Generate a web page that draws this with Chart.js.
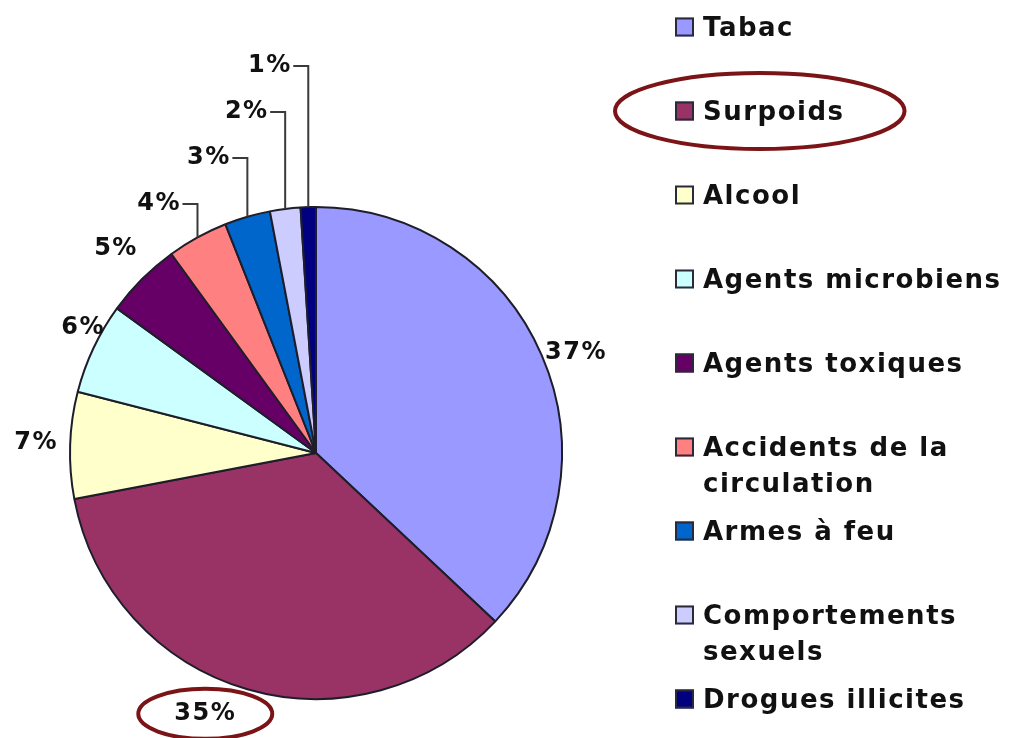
<!DOCTYPE html>
<html lang="fr">
<head>
<meta charset="utf-8">
<title>Causes de décès évitables</title>
<script src="https://cdn.jsdelivr.net/npm/chart.js@4/dist/chart.umd.min.js"></script>
<style>
  html, body { margin: 0; padding: 0; background: #ffffff; }
  #wrap { width: 1014px; height: 738px; position: relative; }
</style>
</head>
<body>
<div id="wrap"><canvas id="pie"></canvas></div>
<script>
// Categories (multi-line legend entries are given as arrays of lines)
const categories = [
  'Tabac',
  'Surpoids',
  'Alcool',
  'Agents microbiens',
  'Agents toxiques',
  ['Accidents de la', 'circulation'],
  'Armes à feu',
  ['Comportements', 'sexuels'],
  'Drogues illicites'
];
// Share of each cause, in percent
const shares = [37, 35, 7, 6, 5, 4, 3, 2, 1];
// Slice colours
const sliceColors = ['#9999FF', '#993366', '#FFFFCC', '#CCFFFF', '#660066', '#FF8080', '#0066CC', '#CCCCFF', '#000080'];
// Entries circled in red
const highlighted = [1];

// Placement of percentage labels: [angle shift in degrees, distance as a multiple of the radius],
// or a number = stacking level of a label drawn above the pie with a leader line.
const labelPlacement = [[2.3, 1.133], [6.8, 1.152], [0.2, 1.138], [3.0, 1.074], [0.6, 1.162], 0, 1, 2, 3];

const TEXT = '#111111';
const FONT = '"DejaVu Sans", Verdana, sans-serif';

const labelsAndLegend = {
  id: 'labelsAndLegend',
  afterDraw(chart, args, opts) {
    const ctx = chart.ctx;
    const meta = chart.getDatasetMeta(0);
    const ds = chart.data.datasets[0];
    const ring = [];

    // percentage labels
    ctx.save();
    ctx.font = 'bold 24px ' + FONT;
    ctx.letterSpacing = '1.5px';
    ctx.fillStyle = TEXT;
    ctx.textBaseline = 'middle';
    meta.data.forEach((arc, i) => {
      const p = arc.getProps(['x', 'y', 'startAngle', 'endAngle', 'outerRadius'], true);
      const mid = (p.startAngle + p.endAngle) / 2;
      const txt = ds.data[i] + '%';
      const w = ctx.measureText(txt).width;
      const place = labelPlacement[i];
      let lx, ly;
      if (Array.isArray(place)) {
        const a = mid + place[0] * Math.PI / 180;
        lx = p.x + Math.cos(a) * p.outerRadius * place[1];
        ly = p.y + Math.sin(a) * p.outerRadius * place[1];
        ctx.textAlign = 'center';
        ctx.fillText(txt, lx, ly);
      } else {
        const ex = p.x + Math.cos(mid) * p.outerRadius;
        const ey = p.y + Math.sin(mid) * p.outerRadius;
        ly = p.y - p.outerRadius - 3 - 46 * place;
        const right = ex - 18;
        lx = right - w / 2;
        ctx.textAlign = 'right';
        ctx.fillText(txt, right + 1.5, ly);
        ctx.save();
        ctx.strokeStyle = '#3a3a3a';
        ctx.lineWidth = 2;
        ctx.beginPath();
        ctx.moveTo(right + 3, ly);
        ctx.lineTo(ex, ly);
        ctx.lineTo(ex, ey);
        ctx.stroke();
        ctx.restore();
      }
      if (highlighted.includes(i)) ring.push({ x: lx, y: ly, rx: w / 2 + 36, ry: 25 });
    });
    ctx.restore();

    // legend
    ctx.save();
    ctx.font = 'bold 26px ' + FONT;
    ctx.letterSpacing = '1.5px';
    ctx.textBaseline = 'middle';
    ctx.textAlign = 'left';
    categories.forEach((cat, i) => {
      const lines = Array.isArray(cat) ? cat : [cat];
      const y = opts.top + i * opts.step;
      const s = opts.box;
      ctx.fillStyle = sliceColors[i];
      ctx.fillRect(opts.x, y - s / 2, s, s);
      ctx.strokeStyle = '#2a2a3a';
      ctx.lineWidth = 2;
      ctx.strokeRect(opts.x + 1, y - s / 2 + 1, s - 2, s - 2);
      ctx.fillStyle = TEXT;
      let maxW = 0;
      lines.forEach((ln, k) => {
        ctx.fillText(ln, opts.textX, y + 2 + k * opts.lineStep);
        maxW = Math.max(maxW, ctx.measureText(ln).width);
      });
      if (highlighted.includes(i)) {
        const left = opts.x, rightEdge = opts.textX + maxW;
        ring.push({ x: (left + rightEdge) / 2, y: y, rx: (rightEdge - left) / 2 + 60, ry: 38 });
      }
    });
    ctx.restore();

    // red circling
    ctx.save();
    ctx.strokeStyle = '#7b1416';
    ctx.lineWidth = 4;
    ring.forEach(e => {
      ctx.beginPath();
      ctx.ellipse(e.x, e.y, e.rx, e.ry, 0, 0, Math.PI * 2);
      ctx.stroke();
    });
    ctx.restore();
  }
};

new Chart(document.getElementById('pie'), {
  type: 'pie',
  data: {
    labels: categories,
    datasets: [{
      data: shares,
      backgroundColor: sliceColors,
      borderColor: '#1e1e2a',
      borderWidth: 2
    }]
  },
  options: {
    responsive: true,
    maintainAspectRatio: false,
    animation: false,
    layout: { padding: { top: 206, bottom: 38, left: 69, right: 451 } },
    plugins: {
      legend: { display: false },
      tooltip: { enabled: false },
      labelsAndLegend: { x: 675, textX: 703, top: 27, step: 84, lineStep: 36, box: 19 }
    }
  },
  plugins: [labelsAndLegend]
});
</script>
</body>
</html>
